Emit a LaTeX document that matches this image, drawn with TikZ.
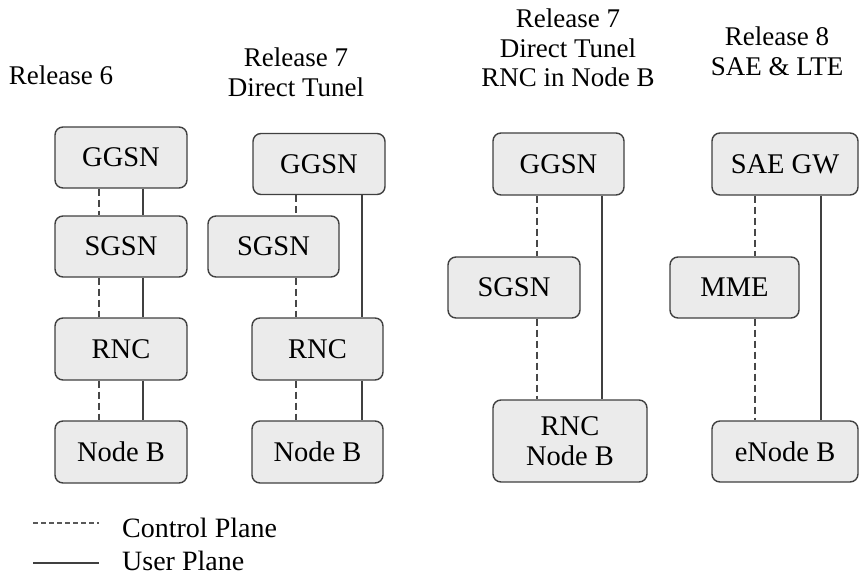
\documentclass[tikz,border=0pt]{standalone}
\usepackage{fontspec}
\setmainfont{Liberation Serif}
\begin{document}
\begin{tikzpicture}[x=1pt,y=-1pt,
  box/.style={draw=black!75,fill=black!8,line width=1.4pt,rounded corners=8pt,
    inner sep=0pt,align=center,font=\fontsize{28.5}{30}\selectfont},
  ttl/.style={inner sep=0pt,align=center,font=\fontsize{27}{29.5}\selectfont},
  ctrl/.style={draw=black!72,line width=1.6pt,dash pattern=on 7pt off 4pt},
  usr/.style={draw=black!75,line width=1.5pt},
  leg/.style={inner sep=0pt,anchor=base west,font=\fontsize{28}{30}\selectfont}]
\useasboundingbox (0,0) rectangle (859,575);
% titles
\node[ttl,anchor=base] (t1) at (61,85) {Release 6};
\node[ttl,anchor=north] (t2) at (296,48) {Release 7\\Direct Tunel};
\node[ttl,anchor=north] (t3) at (568,9) {Release 7\\Direct Tunel\\RNC in Node B};
\node[ttl,anchor=north] (t4) at (777,27) {Release 8\\SAE \& LTE};
% column 1
\node[box,minimum width=132pt,minimum height=61pt] (g1) at (121,157.5) {GGSN};
\node[box,minimum width=132pt,minimum height=61pt] (s1) at (121,246.5) {SGSN};
\node[box,minimum width=132pt,minimum height=62pt] (r1) at (121,349) {RNC};
\node[box,minimum width=132pt,minimum height=62pt] (n1) at (121,452) {Node B};
% column 2
\node[box,minimum width=132pt,minimum height=61pt] (g2) at (319,164) {GGSN};
\node[box,minimum width=131pt,minimum height=61pt] (s2) at (273.5,246.5) {SGSN};
\node[box,minimum width=131pt,minimum height=62pt] (r2) at (317.5,349) {RNC};
\node[box,minimum width=131pt,minimum height=62pt] (n2) at (317.5,452) {Node B};
% column 3
\node[box,minimum width=131pt,minimum height=62pt] (g3) at (558.5,164) {GGSN};
\node[box,minimum width=132pt,minimum height=61pt] (s3) at (514,287.5) {SGSN};
\node[box,minimum width=154pt,minimum height=82pt] (rn3) at (570,441) {RNC\\Node B};
% column 4
\node[box,minimum width=146pt,minimum height=62pt] (g4) at (785,164) {SAE GW};
\node[box,minimum width=129pt,minimum height=61pt] (m4) at (734.5,287.5) {MME};
\node[box,minimum width=146pt,minimum height=61pt] (e4) at (785,451.5) {eNode B};
% line positions
\coordinate (d1) at (99,0);  \coordinate (u1) at (143,0);
\coordinate (d2) at (296,0); \coordinate (u2) at (362,0);
\coordinate (d3) at (537,0); \coordinate (u3) at (602,0);
\coordinate (d4) at (755,0); \coordinate (u4) at (821,0);
% column 1 connectors
\draw[ctrl] (g1.south -| d1) -- (s1.north -| d1);
\draw[ctrl] (s1.south -| d1) -- (r1.north -| d1);
\draw[ctrl] (r1.south -| d1) -- (n1.north -| d1);
\draw[usr] (g1.south -| u1) -- (s1.north -| u1);
\draw[usr] (s1.south -| u1) -- (r1.north -| u1);
\draw[usr] (r1.south -| u1) -- (n1.north -| u1);
% column 2 connectors
\draw[ctrl] (g2.south -| d2) -- (s2.north -| d2);
\draw[ctrl] (s2.south -| d2) -- (r2.north -| d2);
\draw[ctrl] (r2.south -| d2) -- (n2.north -| d2);
\draw[usr] (g2.south -| u2) -- (r2.north -| u2);
\draw[usr] (r2.south -| u2) -- (n2.north -| u2);
% column 3 connectors
\draw[ctrl] (g3.south -| d3) -- (s3.north -| d3);
\draw[ctrl] (s3.south -| d3) -- (rn3.north -| d3);
\draw[usr] (g3.south -| u3) -- (rn3.north -| u3);
% column 4 connectors
\draw[ctrl] (g4.south -| d4) -- (m4.north -| d4);
\draw[ctrl] (m4.south -| d4) -- (e4.north -| d4);
\draw[usr] (g4.south -| u4) -- (e4.north -| u4);
% legend
\coordinate (la) at (33,523); \coordinate (lb) at (99,523);
\coordinate (lc) at (33,563); \coordinate (ld) at (99,563);
\draw[draw=black!65,line width=1.3pt,dash pattern=on 5pt off 3pt] (la) -- (lb);
\draw[usr] (lc) -- (ld);
\node[leg] (lt1) at (122,537) {Control Plane};
\node[leg] (lt2) at (122,570) {User Plane};
\end{tikzpicture}
\end{document}
